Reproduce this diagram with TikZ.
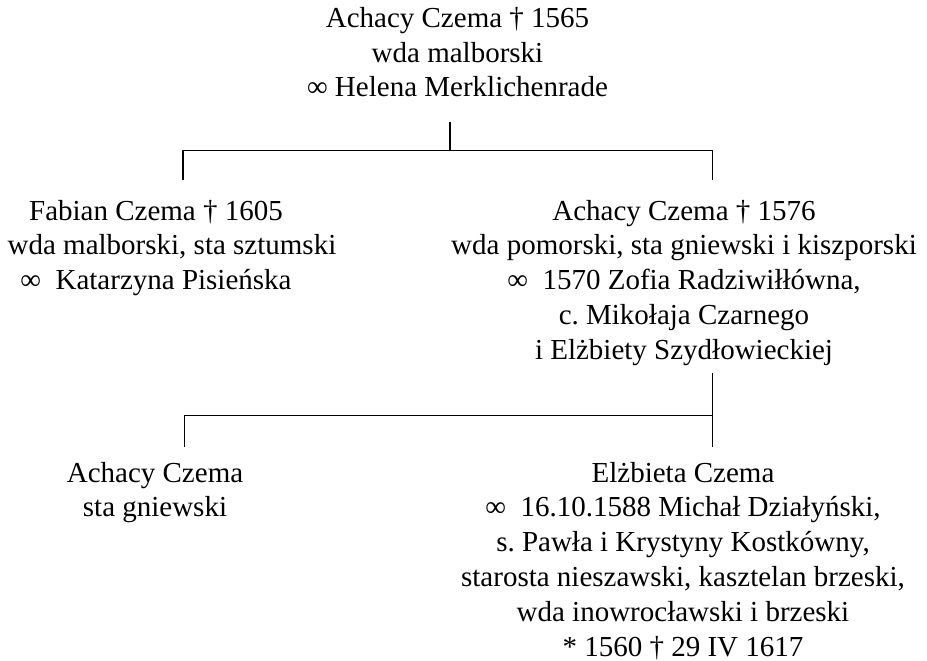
\documentclass[tikz,border=0pt]{standalone}
\usepackage{fontspec}
\setmainfont{Liberation Serif}
\frenchspacing
\begin{document}
\begin{tikzpicture}[x=1pt,y=-1pt,
  person/.style={inner sep=0pt, anchor=base, font=\fontsize{29}{34.8}\selectfont},
  link/.style={draw, line width=1.4pt, line join=miter}]
\useasboundingbox (0,0) rectangle (927,661);
% persons
\node[person] (top) at (457.5,27.3) {\begin{tabular}[t]{@{}c@{}}Achacy Czema † 1565\\ wda malborski\\ ∞ Helena Merklichenrade\end{tabular}};
\node[person] (fabian) at (156,220) {\begin{tabular}[t]{@{}c@{}}Fabian Czema † 1605\\ \hspace*{32pt}wda malborski, sta sztumski\\ ∞\ \ Katarzyna Pisieńska\end{tabular}};
\node[person] (achacy) at (684,220) {\begin{tabular}[t]{@{}c@{}}Achacy Czema † 1576\\ wda pomorski, sta gniewski i kiszporski\\ ∞\ \ 1570 Zofia Radziwiłłówna,\\ c. Mikołaja Czarnego\\ i Elżbiety Szydłowieckiej\end{tabular}};
\node[person] (achacyjr) at (155,482) {\begin{tabular}[t]{@{}c@{}}Achacy Czema\\ sta gniewski\end{tabular}};
\node[person] (elzbieta) at (683,482) {\begin{tabular}[t]{@{}c@{}}Elżbieta Czema\\ ∞\ \ 16.10.1588 Michał Działyński,\\ s. Pawła i Krystyny Kostkówny,\\ starosta nieszawski, kasztelan brzeski,\\ wda inowrocławski i brzeski\\ {*} 1560 † 29 IV 1617\end{tabular}};
% connector points
\coordinate (topdown) at (450,122);
\coordinate (topbar) at (450,150.5);
\coordinate (barL) at (183,150.5);
\coordinate (barR) at (712.5,150.5);
\coordinate (fabianup) at (183,180);
\coordinate (achacyup) at (712.5,180);
\coordinate (achacydown) at (712.5,373);
\coordinate (bar2R) at (712.5,415.5);
\coordinate (bar2L) at (184.5,415.5);
\coordinate (achacyjrup) at (184.5,447);
\coordinate (elzbietaup) at (712.5,447);
% connectors
\draw[link] (topdown) -- (topbar);
\draw[link] (fabianup) -- (barL) -- (barR) -- (achacyup);
\draw[link] (achacydown) -- (elzbietaup);
\draw[link] (achacyjrup) -- (bar2L) -- (bar2R);
\end{tikzpicture}
\end{document}
